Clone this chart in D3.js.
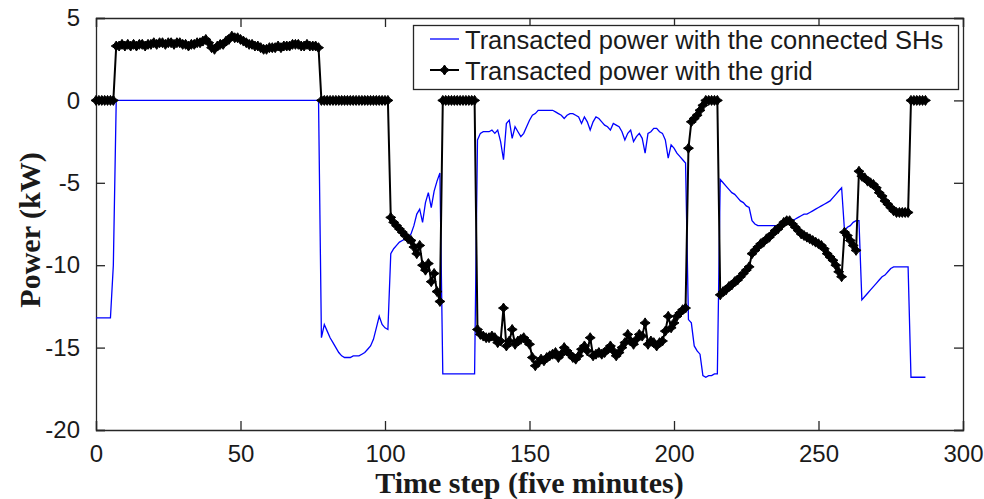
<!DOCTYPE html>
<html>
<head>
<meta charset="utf-8">
<script src="https://cdn.jsdelivr.net/npm/d3@7"></script>
<style>
  body { margin: 0; background: #fff; }
  svg text { fill: #1a1a1a; }
</style>
</head>
<body>
<div id="chart"></div>
<script>
// time step axis
var xTicks = [0, 50, 100, 150, 200, 250, 300];
var yTicks = [-20, -15, -10, -5, 0, 5];
var legendLabels = ["Transacted power with the connected SHs", "Transacted power with the grid"];

// power exchanged with the connected smart homes (kW), one value per 5-minute step
var shPower = [
  -13.2,-13.2,-13.2,-13.2,-13.2,-13.2,-10.0,
  0,0,0,0,0,0,0,0,0,0, 0,0,0,0,0,0,0,0,0,0, 0,0,0,0,0,0,0,0,0,0, 0,0,0,0,0,0,0,0,0,0,
  0,0,0,0,0,0,0,0,0,0, 0,0,0,0,0,0,0,0,0,0, 0,0,0,0,0,0,0,0,0,0, 0,
  -14.4,-13.6,-14.0,-14.4,-14.7,-15.0,-15.3,-15.5,-15.6,-15.6,
  -15.6,-15.5,-15.5,-15.5,-15.4,-15.3,-15.1,-14.9,-14.5,-13.8,
  -13.1,-13.6,-13.8,-13.9,
  -9.3,-9.0,-8.8,-8.6,-8.5,-8.4,-8.3,-8.1,-7.6,-6.9,-6.6,-7.4,-6.2,-5.6,-6.5,-5.5,-4.9,-4.4,
  -16.6,-16.6,-16.6,-16.6,-16.6,-16.6,-16.6,-16.6,-16.6,-16.6,-16.6,-16.6,
  -2.4,-2.0,-1.9,-1.9,-1.9,-1.8,-2.0,-1.8,-2.5,-3.6,
  -1.4,-1.2,-2.3,-1.6,-1.9,-2.2,-2.0,-1.6,-1.2,-0.9,
  -0.8,-0.6,-0.6,-0.6,-0.6,-0.6,-0.6,-0.7,-0.8,-0.9,
  -1.1,-0.9,-0.8,-0.8,-0.9,-1.0,-1.4,-1.0,-1.3,-1.8,
  -1.3,-1.0,-1.1,-1.3,-1.5,-1.6,-1.8,-1.4,-1.5,-1.6,
  -1.9,-2.4,-2.0,-1.8,-2.5,-2.2,-2.0,-2.3,-3.2,-2.0,
  -1.9,-1.7,-1.7,-1.9,-2.0,-2.4,-3.5,-2.7,-2.9,-3.2,
  -3.4,-3.6,-3.8,
  -13.3,-13.5,-14.9,-15.2,-15.4,-16.7,-16.8,-16.7,-16.7,-16.6,-16.6,
  -4.8,-5.0,-5.2,-5.4,-5.6,-5.7,-5.9,-6.1,-6.2,-6.4,
  -6.5,-7.3,-7.5,-7.6,-7.6,-7.6,-7.6,-7.6,-7.6,-7.6,
  -7.6,-7.6,-7.5,-7.5,-7.4,-7.3,-7.2,-7.1,-7.0,-6.9,
  -6.9,-6.8,-6.7,-6.6,-6.5,-6.4,-6.3,-6.2,-6.1,-5.9,
  -5.7,-5.5,-5.3,
  -7.9,-7.7,-7.6,-7.4,-7.3,-7.3,
  -12.1,-11.9,-11.7,-11.5,-11.3,-11.1,-10.9,-10.7,-10.6,-10.4,-10.2,-10.1,-10.1,-10.1,-10.1,-10.1,-10.1,
  -16.8,-16.8,-16.8,-16.8,-16.8,-16.8
];

// power exchanged with the grid (kW)
var gridPower = [
  0,0,0,0,0,0,0,
  3.3,3.3,3.4,3.3,3.4,3.3,3.4,3.3,3.4,3.4,
  3.3,3.4,3.4,3.5,3.4,3.5,3.5,3.4,3.5,3.5,
  3.4,3.5,3.5,3.4,3.4,3.3,3.4,3.4,3.5,3.5,
  3.6,3.7,3.5,3.2,3.1,3.3,3.4,3.4,3.6,3.7,
  3.9,3.8,3.8,3.7,3.6,3.5,3.4,3.4,3.3,3.3,
  3.2,3.1,3.1,3.2,3.2,3.2,3.3,3.2,3.3,3.3,
  3.3,3.4,3.4,3.4,3.3,3.3,3.4,3.3,3.3,3.3,3.2,
  0,0,0,0,0,0,0,0,0,0, 0,0,0,0,0,0,0,0,0,0, 0,0,0,0,
  -7.1,-7.4,-7.6,-7.8,-8.0,-8.2,-8.4,-8.5,-8.9,-9.3,-8.8,-10.0,-10.3,-9.9,-11.0,-10.5,-11.6,-12.2,
  0,0,0,0,0,0,0,0,0,0,0,0,
  -13.9,-14.2,-14.3,-14.4,-14.4,-14.3,-14.4,-14.7,-14.6,-12.6,
  -14.9,-14.6,-13.9,-14.8,-14.6,-14.5,-14.4,-14.6,-14.8,-15.6,
  -16.1,-15.9,-15.7,-15.8,-15.6,-15.5,-15.4,-15.3,-15.6,-15.4,
  -15.0,-15.2,-15.4,-15.6,-15.7,-15.5,-15.1,-14.9,-15.2,-14.4,
  -15.5,-15.4,-15.3,-15.4,-15.3,-15.1,-14.9,-15.2,-15.5,-15.3,
  -15.0,-14.7,-14.2,-14.6,-14.8,-14.5,-14.2,-14.3,-13.5,-14.8,
  -14.6,-14.7,-14.9,-14.7,-14.6,-14.0,-13.1,-13.8,-13.5,-13.1,
  -12.9,-12.7,-12.6,
  -2.9,-1.3,-1.1,-0.9,-0.6,-0.3,
  0,0,0,0,0,
  -11.8,-11.6,-11.5,-11.3,-11.2,-11.0,-10.9,-10.7,-10.5,-10.3,
  -10.1,-9.3,-9.1,-8.9,-8.7,-8.6,-8.4,-8.3,-8.1,-7.9,
  -7.8,-7.6,-7.4,-7.3,-7.3,-7.5,-7.7,-7.9,-8.1,-8.2,
  -8.3,-8.4,-8.5,-8.6,-8.7,-8.8,-9.0,-9.3,-9.5,-9.7,
  -10.0,-10.4,-10.7,-8.0,-8.2,-8.5,-8.8,-9.1,
  -4.3,-4.6,-4.7,-4.9,-5.0,-5.1,-5.3,-5.6,-5.8,-6.1,
  -6.3,-6.5,-6.7,-6.8,-6.8,-6.8,-6.8,-6.8,
  0,0,0,0,0,0
];

var width = 984, height = 499;
var margin = {top: 18, right: 21, bottom: 69, left: 96};
var w = width - margin.left - margin.right;
var h = height - margin.top - margin.bottom;

var svg = d3.select("#chart").append("svg")
    .attr("width", width)
    .attr("height", height);

var g = svg.append("g")
    .attr("transform", "translate(" + margin.left + "," + margin.top + ")");

var x = d3.scaleLinear().domain([0, 300]).range([0, w]);
var y = d3.scaleLinear().domain([-20, 5]).range([h, 0]);

var tickFont = "Liberation Sans, Arial, sans-serif";
var axisColor = "#262626";
var plainNum = function(d){ return String(d); };   // hyphen minus like the original

// axes with inward ticks, MATLAB style box
var xAxis = g.append("g")
    .attr("transform", "translate(0," + h + ")")
    .call(d3.axisBottom(x).tickValues(xTicks).tickSize(-9).tickPadding(17).tickFormat(plainNum));
var xTop = g.append("g")
    .call(d3.axisTop(x).tickValues(xTicks).tickSize(-9).tickFormat(""));
var yAxis = g.append("g")
    .call(d3.axisLeft(y).tickValues(yTicks).tickSize(-9).tickPadding(16).tickFormat(plainNum));
var yRight = g.append("g")
    .attr("transform", "translate(" + w + ",0)")
    .call(d3.axisRight(y).tickValues(yTicks).tickSize(-9).tickFormat(""));

[xAxis, xTop, yAxis, yRight].forEach(function(a){
    a.select(".domain").attr("stroke", axisColor).attr("stroke-width", 1.3);
    a.selectAll(".tick line").attr("stroke", axisColor).attr("stroke-width", 1.3);
    a.selectAll(".tick text")
        .attr("font-family", tickFont)
        .attr("font-size", 24)
        .attr("fill", "#1a1a1a");
});
xAxis.selectAll(".tick text").attr("dy", "0.62em");

var lineFn = d3.line()
    .x(function(d, i){ return x(i); })
    .y(function(d){ return y(d); });

var plot = g.append("g");

plot.append("path")
    .datum(shPower)
    .attr("fill", "none")
    .attr("stroke", "#0000ff")
    .attr("stroke-width", 1.3)
    .attr("d", lineFn);

plot.append("path")
    .datum(gridPower)
    .attr("fill", "none")
    .attr("stroke", "#000")
    .attr("stroke-width", 2)
    .attr("d", lineFn);

var star = "M0,-5L2,-2L5,0L2,2L0,5L-2,2L-5,0L-2,-2Z";

plot.selectAll(".mk")
    .data(gridPower)
    .enter()
    .append("path")
      .attr("class", "mk")
      .attr("d", star)
      .attr("fill", "#000")
      .attr("stroke", "#000")
      .attr("stroke-width", 1)
      .attr("transform", function(d, i){
          return "translate(" + x(i) + "," + y(d) + ")";
      });

// legend
var lg = svg.append("g");
lg.append("rect")
    .attr("x", 413.5).attr("y", 25.5)
    .attr("width", 545).attr("height", 64)
    .attr("fill", "#fff")
    .attr("stroke", axisColor)
    .attr("stroke-width", 1.3);

var rowY = [39, 70];
lg.append("line")
    .attr("x1", 430).attr("x2", 459)
    .attr("y1", rowY[0]).attr("y2", rowY[0])
    .attr("stroke", "#0000ff").attr("stroke-width", 1.3);
lg.append("line")
    .attr("x1", 430).attr("x2", 459)
    .attr("y1", rowY[1]).attr("y2", rowY[1])
    .attr("stroke", "#000").attr("stroke-width", 2);
lg.append("path")
    .attr("d", star)
    .attr("fill", "#000")
    .attr("stroke", "#000")
    .attr("stroke-width", 1)
    .attr("transform", "translate(444.5," + rowY[1] + ")");

lg.selectAll(".lt")
    .data(legendLabels)
    .enter()
    .append("text")
      .attr("class", "lt")
      .attr("x", 465)
      .attr("y", function(d, i){ return rowY[i] + 10; })
      .attr("font-family", tickFont)
      .attr("font-size", 25.5)
      .text(function(d){ return d; });

// axis titles
svg.append("text")
    .attr("x", margin.left + w / 2)
    .attr("y", 493)
    .attr("text-anchor", "middle")
    .attr("font-family", "Liberation Serif, Times New Roman, serif")
    .attr("font-weight", "bold")
    .attr("font-size", 30)
    .attr("fill", "#000")
    .text("Time step (five minutes)");

svg.append("text")
    .attr("transform", "translate(40,230) rotate(-90)")
    .attr("text-anchor", "middle")
    .attr("font-family", "Liberation Serif, Times New Roman, serif")
    .attr("font-weight", "bold")
    .attr("font-size", 30)
    .attr("fill", "#000")
    .text("Power (kW)");
</script>
</body>
</html>
